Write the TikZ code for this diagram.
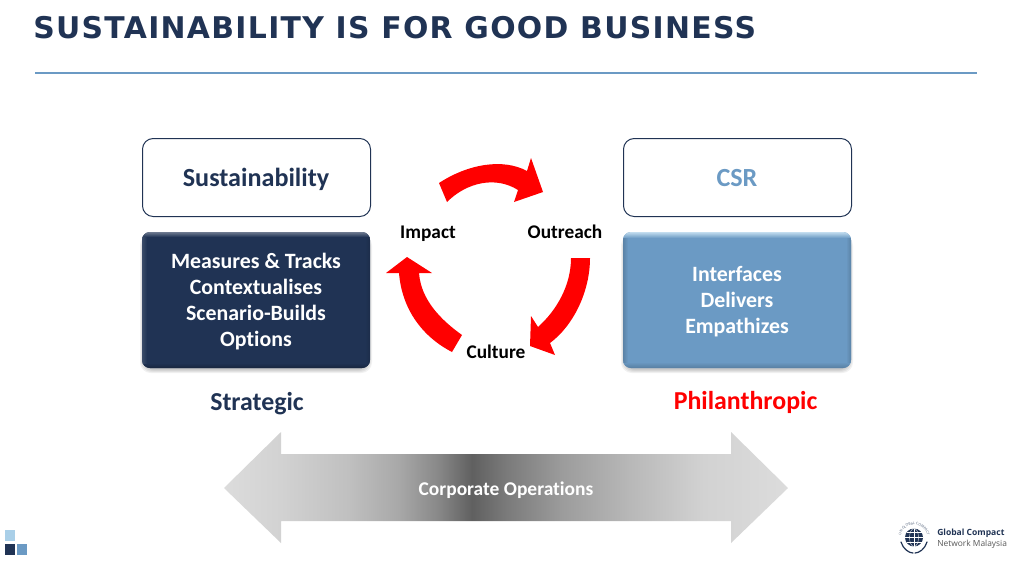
\documentclass[tikz,border=0pt]{standalone}
\usepackage{fontspec}
\setmainfont[Ligatures={NoCommon}]{Carlito}
\newfontfamily\titlefont[LetterSpace=4.4]{DejaVu Sans}
\newfontfamily\logofont{Open Sans}
\usetikzlibrary{decorations.text}
\definecolor{navy}{HTML}{203354}
\definecolor{steel}{HTML}{6B9AC4}
\definecolor{pale}{HTML}{A9CFE8}
\definecolor{arrowred}{HTML}{FF0000}
\definecolor{ga}{HTML}{DCDCDC}
\definecolor{gb}{HTML}{D2D2D2}
\definecolor{gc}{HTML}{C0C0C0}
\definecolor{gd}{HTML}{A8A8A8}
\definecolor{ge}{HTML}{888888}
\definecolor{gf}{HTML}{606060}
\definecolor{gg}{HTML}{7A7A7A}
\definecolor{gh}{HTML}{9C9C9C}
\definecolor{gi}{HTML}{B8B8B8}
\pgfdeclarehorizontalshading{opsshade}{100bp}{
 color(0bp)=(ga); color(25bp)=(ga); color(30bp)=(gb); color(36bp)=(gc); color(40.5bp)=(gd);
 color(44bp)=(ge); color(47bp)=(gf); color(50bp)=(gg); color(55bp)=(gh); color(61bp)=(gi);
 color(67.5bp)=(gb); color(75bp)=(ga); color(100bp)=(ga)}
\tikzset{
 x=0.75pt,y=-0.75pt,
 outlinebox/.style={draw=navy,line width=0.75pt,fill=white,rounded corners=8pt,minimum width=171pt,minimum height=58.5pt,inner sep=0pt},
 headtext/.style={inner sep=0pt,font=\fontsize{19.6pt}{24pt}\selectfont\bfseries},
 bevelbox/.style={rounded corners=6pt,minimum width=171pt,minimum height=102pt,inner sep=0pt},
 boxtext/.style={inner sep=0pt,align=center,text=white,font=\fontsize{16.4pt}{19.5pt}\selectfont\bfseries},
 labeltext/.style={font=\fontsize{14.5pt}{17pt}\selectfont\bfseries,text=black,inner sep=0pt},
 bigtext/.style={font=\fontsize{19.4pt}{23pt}\selectfont\bfseries,inner sep=0pt},
 redarrow/.style={fill=arrowred,draw=none},
 softshadow/.style={fill=black,fill opacity=0.055,draw=none,rounded corners=8pt},
}
\begin{document}
\begin{tikzpicture}
\useasboundingbox (0,0) rectangle (1016,561);
\fill[white] (0,0) rectangle (1016,561);
% title
\node[anchor=west,inner sep=0pt,text=navy,font=\titlefont\fontsize{22.4pt}{26pt}\selectfont\bfseries] (title) at (33,28) {SUSTAINABILITY IS FOR GOOD BUSINESS};
\coordinate (ruleL) at (35,73);
\coordinate (ruleR) at (977,73);
\draw[steel,line width=1.1pt] (ruleL) -- (ruleR);
% top boxes
\node[outlinebox] (sus) at (256.5,177.5) {};
\node[outlinebox] (csr) at (737.5,177.5) {};
\node[headtext,text=navy] (sustext) at (256,179) {Sustainability};
\node[headtext,text=steel] (csrtext) at (737,178) {CSR};
% shadows
\foreach \e in {0,1,2,3}{
 \fill[softshadow] (143-\e,238-\e) rectangle (369+\e,370+\e);
 \fill[softshadow] (624-\e,238-\e) rectangle (850+\e,370+\e);
}
% bevel boxes
\node[bevelbox,fill=navy] (mt) at (256,300) {};
\node[bevelbox,fill=steel] (ifc) at (737,300) {};
\begin{scope}
\clip[rounded corners=6pt] (142,232) rectangle (370,368);
\shade[top color=navy!65!white,bottom color=navy] (142,232) rectangle (370,237);
\shade[top color=navy,bottom color=navy!75!black] (142,363) rectangle (370,368);
\shade[left color=navy!88!white,right color=navy] (142,237) rectangle (147,363);
\shade[left color=navy,right color=navy!88!black] (365,237) rectangle (370,363);
\end{scope}
\begin{scope}
\clip[rounded corners=6pt] (623,232) rectangle (851,368);
\shade[top color=pale!70!white,bottom color=steel] (623,232) rectangle (851,238);
\shade[top color=steel,bottom color=steel!82!black] (623,362) rectangle (851,368);
\shade[left color=steel!85!black,right color=steel] (623,238) rectangle (628,362);
\shade[left color=steel,right color=steel!85!black] (846,238) rectangle (851,362);
\end{scope}
\node[boxtext] (mttext) at (256,301.5) {Measures \& Tracks\\Contextualises\\Scenario-Builds\\Options};
\node[boxtext] (ifctext) at (737,302) {Interfaces\\Delivers\\Empathizes};
\node[bigtext,text=navy] (strategic) at (257,404) {Strategic};
\node[bigtext,text=arrowred] (phil) at (745.5,402) {Philanthropic};
% cycle arrows
\fill[redarrow] (439,183) .. controls (468,164) and (503,158) .. (527,171)
  -- (531,158) -- (543,192) -- (514,202) -- (518,190)
  .. controls (496,176) and (467,182) .. (447,202) -- cycle;
\fill[redarrow] (590,258) .. controls (590,292) and (573,326) .. (550,343)
  -- (555,355) -- (530,346) -- (531,316) -- (538,327)
  .. controls (557,310) and (571,285) .. (571,258) -- cycle;
\fill[redarrow] (462,335) .. controls (441,320) and (421,300) .. (419,273)
  -- (432,273) -- (407,257) -- (386,273) -- (399,273)
  .. controls (402,310) and (423,337) .. (452,352) -- cycle;
\node[labeltext] (impact) at (428,233.5) {Impact};
\node[labeltext] (outreach) at (565,232) {Outreach};
\node[labeltext] (culture) at (496,352) {Culture};
% double arrow
\shade[shading=opsshade] (224,488) -- (281,432) -- (281,454) -- (731,454) -- (731,432) -- (788,488) -- (731,543) -- (731,521) -- (281,521) -- (281,543) -- cycle;
\node[font=\fontsize{14.6pt}{17pt}\selectfont\bfseries,text=white,inner sep=0pt] (ops) at (506,490) {Corporate Operations};
% corner squares
\fill[pale] (5,530) rectangle (15,541);
\fill[navy] (5,544) rectangle (15,555);
\fill[steel] (17,544) rectangle (27,555);
% logo
\fill[navy] (914,537.5) circle (9);
\draw[white,line width=0.25pt] (914,528.5) -- (914,546.5) (905,537.5) -- (923,537.5) (906.5,532.5) -- (921.5,532.5) (906.5,542.5) -- (921.5,542.5);
\draw[white,line width=0.25pt] (914,537.5) ellipse (4.5 and 9);
\draw[navy,line width=0.9pt,line cap=round] (901,542) .. controls (903,549) and (909,553) .. (913,553);
\draw[navy,line width=0.9pt,line cap=round] (927,542) .. controls (925,549) and (919,553) .. (915,553);
\path[decorate,decoration={text along path,text align=center,text={|\logofont\fontsize{2.6pt}{3pt}\selectfont\color{navy!80}|UN GLOBAL COMPACT}}] (900.5,542) .. controls (898,519) and (930,519) .. (927.5,542);
\node[anchor=west,inner sep=0pt,text=navy,font=\logofont\fontsize{6.4pt}{7pt}\selectfont\bfseries] (gc) at (937,533) {Global Compact};
\node[anchor=west,inner sep=0pt,text=black!65,font=\logofont\fontsize{6.3pt}{7pt}\selectfont] (nm) at (937,544) {Network Malaysia};
\end{tikzpicture}
\end{document}
